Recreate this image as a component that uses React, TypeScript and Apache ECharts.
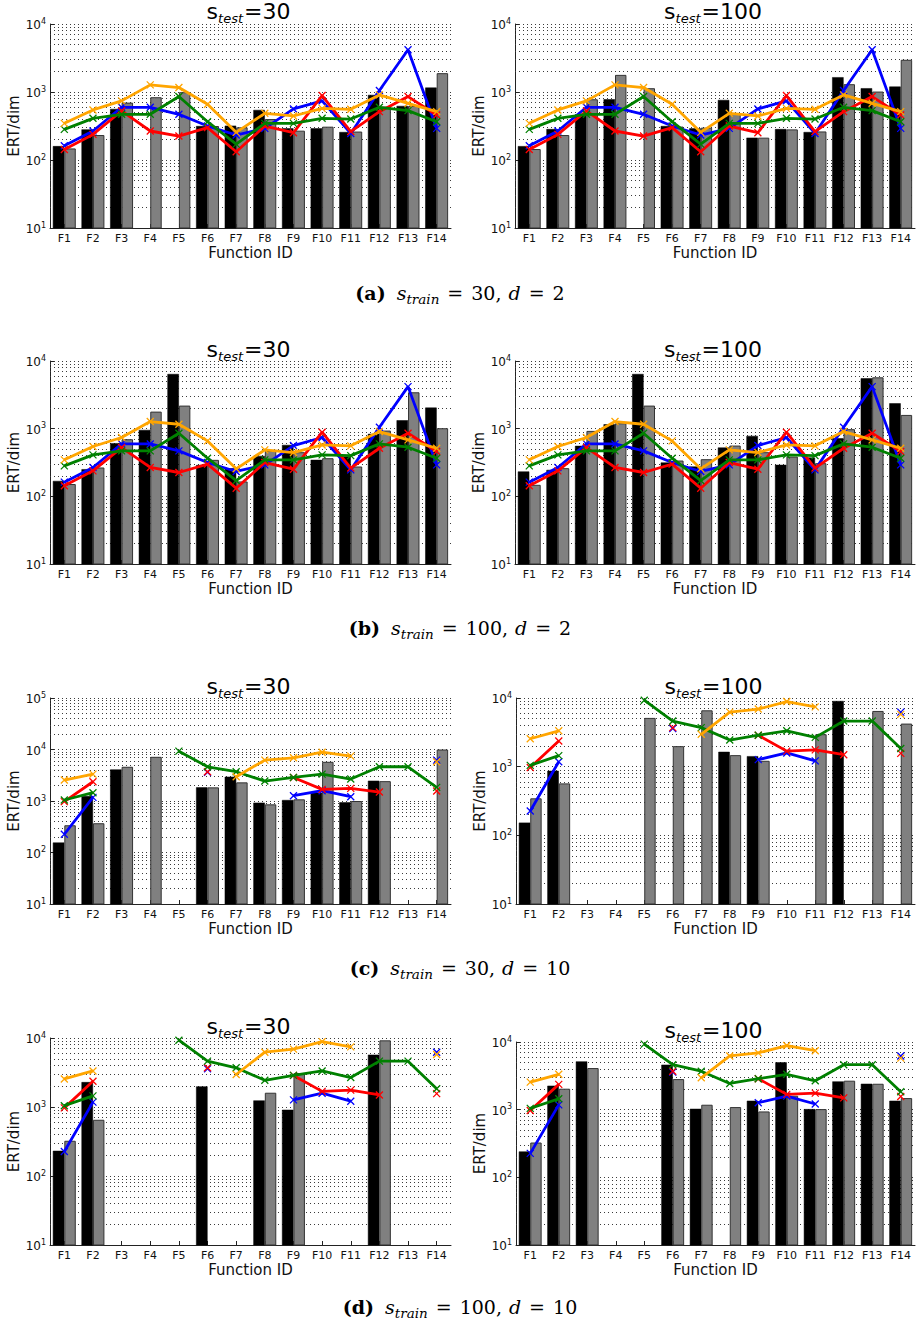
import React, { useEffect, useRef } from "react";
import * as echarts from "echarts";

const N = null;
const functionIds = ["F1", "F2", "F3", "F4", "F5", "F6", "F7", "F8", "F9", "F10", "F11", "F12", "F13", "F14"];

// Line series for d = 2 (same in panels a and b)
const d2Blue = [162, 267, 596, 595, 470, 316, 233, 292, 563, 740, 246, 1050, 4180, 292];
const d2Red = [143, 238, 526, 267, 225, 299, 132, 316, 252, 886, 262, 514, 857, 459];
const d2Green = [282, 410, 470, 470, 857, 366, 171, 346, 346, 410, 400, 596, 532, 366];
const d2Orange = [346, 545, 740, 1273, 1162, 660, 255, 486, 444, 575, 557, 906, 682, 514];

// Line series for d = 10 (same in panels c and d)
const d10Blue = [226, 1178, N, N, N, 3590, N, N, 1268, 1585, 1213, N, N, 6220];
const d10Red = [972, 2366, N, N, N, 3700, N, N, 2870, 1683, 1758, 1493, N, 1563];
const d10Green = [1045, 1449, N, N, 9290, 4620, 3700, 2440, 2870, 3330, 2670, 4620, 4620, 1840];
const d10Orange = [2550, 3330, N, N, N, N, 2960, 6220, 6900, 8870, 7430, N, N, 5770];

// Bars
const a30Black = [160, 282, 563, N, N, 316, 320, 545, 292, 292, 258, 906, 624, 1162];
const a30Gray = [148, 233, 698, 838, 993, 316, 302, 400, 270, 309, 262, 610, 624, 1892];
const a100Black = [160, 285, 470, 782, N, 316, 292, 764, 213, 285, 258, 1652, 1137, 1202];
const a100Gray = [145, 233, 782, 1786, 1137, 310, 299, 486, 213, 282, 263, 1303, 1015, 2977];
const b30Black = [169, 252, 610, 959, 6430, 290, 260, 396, 575, 346, 387, 838, 1331, 2048];
const b30Gray = [152, 267, 698, 1786, 2193, 346, 166, 470, 449, 366, 276, 938, 3450, 1015];
const b100Black = [233, 246, 557, 1162, 6430, 316, 276, 526, 782, 292, 375, 722, 5550, 2371];
const b100Gray = [148, 261, 927, 1202, 2193, 338, 354, 563, 449, 387, 309, 982, 5740, 1596];
const c30Black = [156, 1250, 4100, N, N, 1840, 2960, 929, 1045, 1449, 942, 2475, N, N];
const c30Gray = [338, 370, 4620, 7210, N, 1840, 2300, 861, 1077, 5770, 1000, 2430, N, 10000];
const c100Black = [153, 871, N, N, N, N, N, 1645, 1422, N, N, 9040, N, N];
const c100Gray = [346, 571, N, N, 5130, 1990, 6620, 1472, 1218, N, 2970, N, 6480, 4240];
const d30Black = [232, 2297, N, N, N, 1990, N, 1245, 912, N, N, 5730, N, N];
const d30Gray = [324, 653, N, N, N, N, N, 1610, 3105, N, N, 9250, N, N];
const d100Black = [241, 2260, 5170, N, N, 4620, 1030, N, 1355, 5000, 1019, 2618, 2415, 1355];
const d100Gray = [327, 2040, 4120, N, N, 2830, 1183, 1092, 942, 1607, 1019, 2680, 2415, 1483];

const captionLabels = ["(a)", "(b)", "(c)", "(d)"];
const captionTrain = ["30", "100", "30", "100"];
const captionDim = ["2", "2", "10", "10"];
const captionBaseline = [300, 635, 975, 1314];

const d2Lines = [d2Blue, d2Red, d2Green, d2Orange];
const d10Lines = [d10Blue, d10Red, d10Green, d10Orange];
const lineColors = ["#0000ff", "#ff0000", "#008000", "#ffa500"];

const panels = [
  { left: 50, top: 24, width: 401, height: 204, yMax: 1e4, stest: "30", titleBase: 19, black: a30Black, gray: a30Gray, lines: d2Lines },
  { left: 515, top: 24, width: 400, height: 204, yMax: 1e4, stest: "100", titleBase: 19, black: a100Black, gray: a100Gray, lines: d2Lines },
  { left: 50, top: 361, width: 401, height: 203, yMax: 1e4, stest: "30", titleBase: 357, black: b30Black, gray: b30Gray, lines: d2Lines },
  { left: 515, top: 361, width: 400, height: 203, yMax: 1e4, stest: "100", titleBase: 357, black: b100Black, gray: b100Gray, lines: d2Lines },
  { left: 50, top: 698, width: 401, height: 206, yMax: 1e5, stest: "30", titleBase: 694, black: c30Black, gray: c30Gray, lines: d10Lines },
  { left: 516, top: 698, width: 399, height: 206, yMax: 1e4, stest: "100", titleBase: 694, black: c100Black, gray: c100Gray, lines: d10Lines },
  { left: 50, top: 1038, width: 401, height: 207, yMax: 1e4, stest: "30", titleBase: 1034, black: d30Black, gray: d30Gray, lines: d10Lines },
  { left: 516, top: 1042, width: 399, height: 203, yMax: 1e4, stest: "100", titleBase: 1038, black: d100Black, gray: d100Gray, lines: d10Lines },
];

const SANS = "DejaVu Sans";
const SERIF = "DejaVu Serif";
const GRID_COLOR = "#3a3a3a";
const GRID_DASH = [1, 3];

function minorValues(max: number): number[] {
  const out: number[] = [];
  for (let dec = 10; dec < max; dec *= 10) {
    for (let k = 2; k <= 9; k++) out.push(k * dec);
  }
  return out;
}

let measureCtx: CanvasRenderingContext2D | null = null;
function measure(text: string, font: string): number {
  if (!measureCtx) measureCtx = document.createElement("canvas").getContext("2d");
  if (!measureCtx) return text.length * 8;
  measureCtx.font = font;
  return measureCtx.measureText(text).width;
}

type Seg = { text: string; size: number; family: string; style?: string; weight?: string; dy?: number; gap?: number };

function textRun(segs: Seg[], cx: number, baseline: number): any[] {
  const widths = segs.map(
    (s) => measure(s.text, `${s.style || "normal"} ${s.weight || "normal"} ${s.size}px "${s.family}"`) + (s.gap || 0)
  );
  const total = widths.reduce((a, b) => a + b, 0);
  let x = cx - total / 2;
  return segs.map((s, i) => {
    const el = {
      type: "text",
      x,
      y: baseline + (s.dy || 0) - 0.36 * s.size,
      style: {
        text: s.text,
        fontSize: s.size,
        fontFamily: s.family,
        fontStyle: s.style || "normal",
        fontWeight: s.weight || "normal",
        fill: "#000",
        align: "left",
        verticalAlign: "middle",
      },
    };
    x += widths[i];
    return el;
  });
}

function buildOption() {
  const grid: any[] = [];
  const xAxis: any[] = [];
  const yAxis: any[] = [];
  const series: any[] = [];
  const graphic: any[] = [];

  panels.forEach((p, i) => {
    grid.push({ left: p.left, top: p.top, width: p.width, height: p.height, containLabel: false });
    xAxis.push({
      type: "category",
      gridIndex: i,
      data: functionIds,
      name: "Function ID",
      nameLocation: "middle",
      nameGap: 17,
      nameTextStyle: { fontSize: 15, color: "#111", fontFamily: SANS },
      axisLine: { show: true, lineStyle: { color: "#222", width: 1 } },
      axisTick: { show: true, inside: true, alignWithLabel: true, length: 4, lineStyle: { color: "#222" } },
      axisLabel: { fontSize: 11, color: "#111", margin: 5, interval: 0, fontFamily: SANS },
      splitLine: { show: false },
    });
    yAxis.push({
      type: "log",
      gridIndex: i,
      logBase: 10,
      min: 10,
      max: p.yMax,
      name: "ERT/dim",
      nameLocation: "middle",
      nameGap: 29,
      nameTextStyle: { fontSize: 15, color: "#111", fontFamily: SANS },
      axisLine: { show: true, lineStyle: { color: "#222", width: 1 } },
      axisTick: { show: true, inside: true, length: 4, lineStyle: { color: "#222" } },
      axisLabel: {
        margin: 4,
        formatter: (v: number) => "{b|10}{e|" + Math.round(Math.log10(v)) + "}",
        rich: {
          b: { fontSize: 12, fontFamily: SANS, color: "#111", lineHeight: 14, verticalAlign: "bottom" },
          e: { fontSize: 8, fontFamily: SANS, color: "#111", lineHeight: 4, verticalAlign: "top" },
        },
      },
      splitLine: { show: true, lineStyle: { type: GRID_DASH, color: GRID_COLOR, width: 1 } },
    });

    series.push({
      type: "bar",
      xAxisIndex: i,
      yAxisIndex: i,
      data: p.black,
      barWidth: "40%",
      barGap: "0%",
      itemStyle: { color: "#000", borderColor: "#000", borderWidth: 0.5 },
      z: 2,
      markLine: {
        silent: true,
        symbol: ["none", "none"],
        label: { show: false },
        lineStyle: { type: GRID_DASH, color: GRID_COLOR, width: 1 },
        data: minorValues(p.yMax).map((v) => ({ yAxis: v })),
        z: 1,
        animation: false,
      },
    });
    series.push({
      type: "bar",
      xAxisIndex: i,
      yAxisIndex: i,
      data: p.gray,
      barWidth: "40%",
      barGap: "0%",
      itemStyle: { color: "#808080", borderColor: "#333", borderWidth: 1 },
      z: 2,
    });
    p.lines.forEach((ld, li) => {
      series.push({
        type: "line",
        xAxisIndex: i,
        yAxisIndex: i,
        data: ld,
        connectNulls: false,
        showSymbol: true,
        showAllSymbol: true,
        symbol: "path://M0,0L10,10M10,0L0,10",
        symbolSize: 7,
        lineStyle: { color: lineColors[li], width: 2.8 },
        itemStyle: { color: lineColors[li], borderColor: lineColors[li], borderWidth: 1.3 },
        z: 3 + li,
      });
    });

    graphic.push(
      ...textRun(
        [
          { text: "s", size: 22, family: SANS },
          { text: "test", size: 13, family: SANS, style: "italic", dy: 4, gap: 1 },
          { text: "=" + p.stest, size: 22, family: SANS },
        ],
        p.left + p.width / 2 - 2,
        p.titleBase
      )
    );
  });

  captionLabels.forEach((lab, i) => {
    graphic.push(
      ...textRun(
        [
          { text: lab, size: 19, family: SERIF, weight: "bold", gap: 11 },
          { text: "s", size: 19, family: SERIF, style: "italic" },
          { text: "train", size: 13.5, family: SERIF, style: "italic", dy: 3.5, gap: 8 },
          { text: "=", size: 19, family: SERIF, gap: 8 },
          { text: captionTrain[i] + ",", size: 19, family: SERIF, gap: 7 },
          { text: "d", size: 19, family: SERIF, style: "italic", gap: 8 },
          { text: "=", size: 19, family: SERIF, gap: 8 },
          { text: captionDim[i], size: 19, family: SERIF },
        ],
        460,
        captionBaseline[i]
      )
    );
  });

  return {
    animation: false,
    backgroundColor: "#fff",
    grid,
    xAxis,
    yAxis,
    series,
    graphic,
  };
}

export default function App() {
  const ref = useRef<HTMLDivElement>(null);
  useEffect(() => {
    document.body.style.margin = "0";
    if (!ref.current) return;
    const chart = echarts.init(ref.current, null, { renderer: "svg" });
    chart.setOption(buildOption() as any);
    return () => chart.dispose();
  }, []);
  return (
    <div
      ref={ref}
      style={{ position: "absolute", left: 0, top: 0, width: 917, height: 1324, background: "#fff" }}
    />
  );
}
